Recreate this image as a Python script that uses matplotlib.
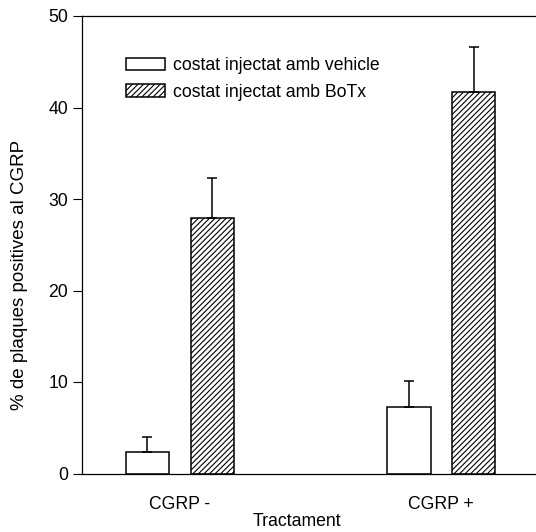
import matplotlib
matplotlib.use("Agg")
import matplotlib.pyplot as plt
import numpy as np

grups = ["CGRP -", "CGRP +"]
vehicle = [2.4, 7.3]
vehicle_err = [1.6, 2.8]
botx = [27.9, 41.7]
botx_err = [4.4, 4.9]
y_ticks = [0, 10, 20, 30, 40, 50]

plt.rcParams['font.family'] = ['Liberation Sans', 'DejaVu Sans']
plt.rcParams['hatch.linewidth'] = 0.8

fig = plt.figure(figsize=(5.36, 5.32), dpi=100)
ax = fig.add_axes([81.5/536, 1 - 473.5/532, 1 - 81.5/536, (473.5 - 16)/532])

x = np.arange(len(grups))
w = 0.166
off = 0.124

ax.bar(x - off, vehicle, w, color='white', edgecolor='black', linewidth=1.1,
       label='costat injectat amb vehicle')
ax.bar(x + off, botx, w, color='white', edgecolor='black', linewidth=1.1,
       hatch='//////', label='costat injectat amb BoTx')
ax.errorbar(x - off, vehicle, yerr=[[0, 0], vehicle_err], fmt='none',
            ecolor='black', elinewidth=1.1, capsize=3.6, capthick=1.1)
ax.errorbar(x + off, botx, yerr=[[0, 0], botx_err], fmt='none',
            ecolor='black', elinewidth=1.1, capsize=3.6, capthick=1.1)

ax.set_xlim(-0.376, 1.362)
ax.set_ylim(0, 50)
ax.set_yticks(y_ticks)
ax.set_xticks(x)
ax.set_xticklabels(grups)
ax.tick_params(axis='x', length=0, pad=16.5, labelsize=12.7)
ax.tick_params(axis='y', length=6.5, width=0.8, pad=3, labelsize=12.7)

ax.spines['right'].set_visible(False)
for s in ['left', 'top', 'bottom']:
    ax.spines[s].set_linewidth(0.9)

ax.set_ylabel('% de plaques positives al CGRP', fontsize=13.5)
ax.yaxis.set_label_coords(-0.118, 0.434)
ax.set_xlabel('Tractament', fontsize=12.7)
ax.xaxis.set_label_coords(0.474, -0.086)

ax.legend(loc='upper left', bbox_to_anchor=(125.7/536, 1 - 57/532),
          bbox_transform=fig.transFigure, frameon=False, fontsize=12.7,
          borderpad=0, borderaxespad=0, handlelength=2.25, handleheight=0.72,
          handletextpad=0.45, labelspacing=0.55)

fig.savefig('out.png', dpi=100)
